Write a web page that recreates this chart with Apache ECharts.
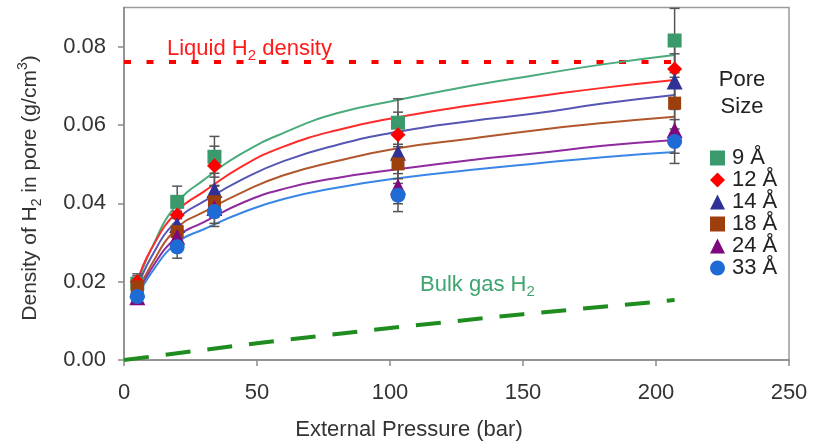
<!DOCTYPE html>
<html><head><meta charset="utf-8">
<script src="https://cdn.jsdelivr.net/npm/echarts@6/dist/echarts.min.js"></script>
<style>html,body{margin:0;padding:0;background:#fff}#c{width:814px;height:442px}</style>
</head><body><div id="c"></div>
<script>
// ---- data ----
const pressures = [5, 20, 34, 103, 207];
const poreSizes = ['9 Å', '12 Å', '14 Å', '18 Å', '24 Å', '33 Å'];
const density9  = [0.0195, 0.0404, 0.0519, 0.0606, 0.0816];
const density12 = [0.0200, 0.0370, 0.0496, 0.0575, 0.0743];
const density14 = [0.0180, 0.0345, 0.0434, 0.0529, 0.0711];
const density18 = [0.0187, 0.0328, 0.0404, 0.0501, 0.0656];
const density24 = [0.0160, 0.0315, 0.0388, 0.0443, 0.0587];
const density33 = [0.0162, 0.0289, 0.0379, 0.0421, 0.0558];
const err9  = [0.0020, 0.0040, 0.0052, 0.0061, 0.0082];
const err12 = [0.0020, 0.0037, 0.0050, 0.0058, 0.0074];
const err14 = [0.0018, 0.0035, 0.0043, 0.0053, 0.0071];
const err18 = [0.0019, 0.0033, 0.0040, 0.0050, 0.0066];
const err24 = [0.0016, 0.0032, 0.0039, 0.0044, 0.0059];
const err33 = [0.0016, 0.0029, 0.0038, 0.0042, 0.0056];
const fitPressures = [5, 10, 20, 30, 45, 60, 80, 103, 130, 155, 180, 207];
const fit9  = [0.0190, 0.0280, 0.0400, 0.0460, 0.0530, 0.0580, 0.0630, 0.0664, 0.0700, 0.0728, 0.0755, 0.0779];
const fit12 = [0.0200, 0.0280, 0.0380, 0.0430, 0.0497, 0.0545, 0.0587, 0.0620, 0.0650, 0.0673, 0.0695, 0.0715];
const fit14 = [0.0180, 0.0260, 0.0358, 0.0405, 0.0463, 0.0508, 0.0549, 0.0583, 0.0610, 0.0630, 0.0655, 0.0677];
const fit18 = [0.0170, 0.0240, 0.0337, 0.0378, 0.0430, 0.0472, 0.0508, 0.0541, 0.0565, 0.0587, 0.0605, 0.0621];
const fit24 = [0.0165, 0.0230, 0.0315, 0.0352, 0.0403, 0.0437, 0.0465, 0.0487, 0.0510, 0.0528, 0.0547, 0.0562];
const fit33 = [0.0160, 0.0220, 0.0300, 0.0334, 0.0378, 0.0411, 0.0440, 0.0464, 0.0485, 0.0502, 0.0518, 0.0531];
const liquidPressures = [0, 207];
const liquidDensity = [0.0761, 0.0761];
const bulkPressures = [0, 50, 100, 150, 207];
const bulkDensity = [0, 0.0043, 0.0082, 0.0117, 0.0153];
const xTickValues = [0, 50, 100, 150, 200, 250];
const yTickValues = [0, 0.02, 0.04, 0.06, 0.08];

// ---- styles ----
const markerColors = ['#3a9a6b', '#ff0000', '#2f3196', '#9c3f0d', '#7e097e', '#1f6bd6'];
const lineColors   = ['#4aab7c', '#ff2a2a', '#5656b4', '#b0572d', '#8f2a9f', '#3a86e6'];
const symbols = ['rect', 'diamond', 'triangle', 'rect', 'triangle', 'circle'];
const symbolSizes = [14, 15, 16, 13, 16, 15];
const densities = [density9, density12, density14, density18, density24, density33];
const errors = [err9, err12, err14, err18, err24, err33];
const fits = [fit9, fit12, fit14, fit18, fit24, fit33];
const FONT = 'Liberation Sans, Arial, sans-serif';

const series = [];
fits.forEach((f, i) => {
  series.push({
    type: 'line', name: 'fit' + i, smooth: true, showSymbol: false, silent: true, z: 2,
    data: fitPressures.map((p, k) => [p, f[k]]),
    lineStyle: { color: lineColors[i], width: 2 }
  });
});
series.push({
  type: 'line', name: 'liquid', showSymbol: false, silent: true, z: 1,
  data: liquidPressures.map((p, k) => [p, liquidDensity[k]]),
  lineStyle: { color: '#ff0000', width: 4, type: [7, 15.5] }
});
series.push({
  type: 'line', name: 'bulk', showSymbol: false, silent: true, z: 1,
  data: bulkPressures.map((p, k) => [p, bulkDensity[k]]),
  lineStyle: { color: '#1e8c1e', width: 4, type: [25, 17] }
});
densities.forEach((d, i) => {
  series.push({
    type: 'custom', name: 'err' + i, silent: true, z: 3,
    encode: { x: 0, y: [1, 2] },
    data: pressures.map((p, k) => [p, d[k] - errors[i][k], d[k] + errors[i][k]]),
    renderItem: function (params, api) {
      const x = api.value(0);
      const lo = api.coord([x, api.value(1)]);
      const hi = api.coord([x, api.value(2)]);
      const w = 5;
      const st = { stroke: '#555', lineWidth: 1.5 };
      return { type: 'group', children: [
        { type: 'line', shape: { x1: lo[0], y1: lo[1], x2: hi[0], y2: hi[1] }, style: st },
        { type: 'line', shape: { x1: lo[0] - w, y1: lo[1], x2: lo[0] + w, y2: lo[1] }, style: st },
        { type: 'line', shape: { x1: hi[0] - w, y1: hi[1], x2: hi[0] + w, y2: hi[1] }, style: st }
      ]};
    }
  });
});
densities.forEach((d, i) => {
  series.push({
    type: 'scatter', name: poreSizes[i], z: 4 + i,
    symbol: symbols[i], symbolSize: symbolSizes[i],
    itemStyle: { color: markerColors[i], opacity: 1 },
    data: pressures.map((p, k) => [p, d[k]])
  });
});

function richStyle(color, size) {
  return {
    a: { fontSize: size, fontFamily: FONT, fill: color, lineHeight: 28 },
    s: { fontSize: Math.round(size * 0.68), fontFamily: FONT, fill: color, lineHeight: 15, verticalAlign: 'bottom' },
    p: { fontSize: Math.round(size * 0.68), fontFamily: FONT, fill: color, lineHeight: 15, verticalAlign: 'top' }
  };
}

const chart = echarts.init(document.getElementById('c'));
chart.setOption({
  animation: false,
  backgroundColor: '#fff',
  textStyle: { fontFamily: FONT },
  grid: { left: 124, right: 25, top: 7.6, bottom: 82, show: true, borderColor: '#9a9a9a', borderWidth: 1.5, backgroundColor: 'transparent' },
  xAxis: {
    type: 'value', min: 0, max: 250, interval: 50,
    axisLine: { lineStyle: { color: '#8a8a8a', width: 1.5 } },
    axisTick: { show: true, length: 6, lineStyle: { color: '#8a8a8a', width: 1.5 }, customValues: xTickValues },
    axisLabel: { fontSize: 22, color: '#333', margin: 22, fontFamily: FONT, customValues: xTickValues },
    splitLine: { show: false }
  },
  yAxis: {
    type: 'value', min: 0, max: 0.09, interval: 0.02,
    axisLine: { show: true, lineStyle: { color: '#8a8a8a', width: 1.5 } },
    axisTick: { show: true, length: 6, lineStyle: { color: '#8a8a8a', width: 1.5 }, customValues: yTickValues },
    axisLabel: { fontSize: 22, color: '#333', margin: 18, fontFamily: FONT, customValues: yTickValues,
      formatter: v => v.toFixed(2) },
    splitLine: { show: false }
  },
  legend: {
    orient: 'vertical', left: 705, top: 142, itemGap: 0,
    itemWidth: 15, itemHeight: 15,
    data: poreSizes,
    textStyle: { fontSize: 22, lineHeight: 21, color: '#222', fontFamily: FONT, padding: [0, 0, 0, 2] }
  },
  graphic: [
    { type: 'text', x: 30, y: 188, rotation: Math.PI / 2, style: {
      text: '{a|Density of H}{s|2}{a| in pore (g/cm}{p|3}{a|)}', rich: richStyle('#333', 21),
      align: 'center', verticalAlign: 'middle' } },
    { type: 'text', x: 409, y: 430, style: { text: 'External Pressure (bar)', font: '22px ' + FONT, fill: '#333', align: 'center', verticalAlign: 'middle' } },
    { type: 'text', x: 167, y: 49, style: {
      text: '{a|Liquid H}{s|2}{a| density}', rich: richStyle('#ff1a1a', 22),
      align: 'left', verticalAlign: 'middle' } },
    { type: 'text', x: 420, y: 285, style: {
      text: '{a|Bulk gas H}{s|2}', rich: richStyle('#3fa56f', 22),
      align: 'left', verticalAlign: 'middle' } },
    { type: 'text', x: 742, y: 80, style: { text: 'Pore', font: '22px ' + FONT, fill: '#222', align: 'center', verticalAlign: 'middle' } },
    { type: 'text', x: 742, y: 107, style: { text: 'Size', font: '22px ' + FONT, fill: '#222', align: 'center', verticalAlign: 'middle' } }
  ],
  series: series
});
</script>
</body></html>
